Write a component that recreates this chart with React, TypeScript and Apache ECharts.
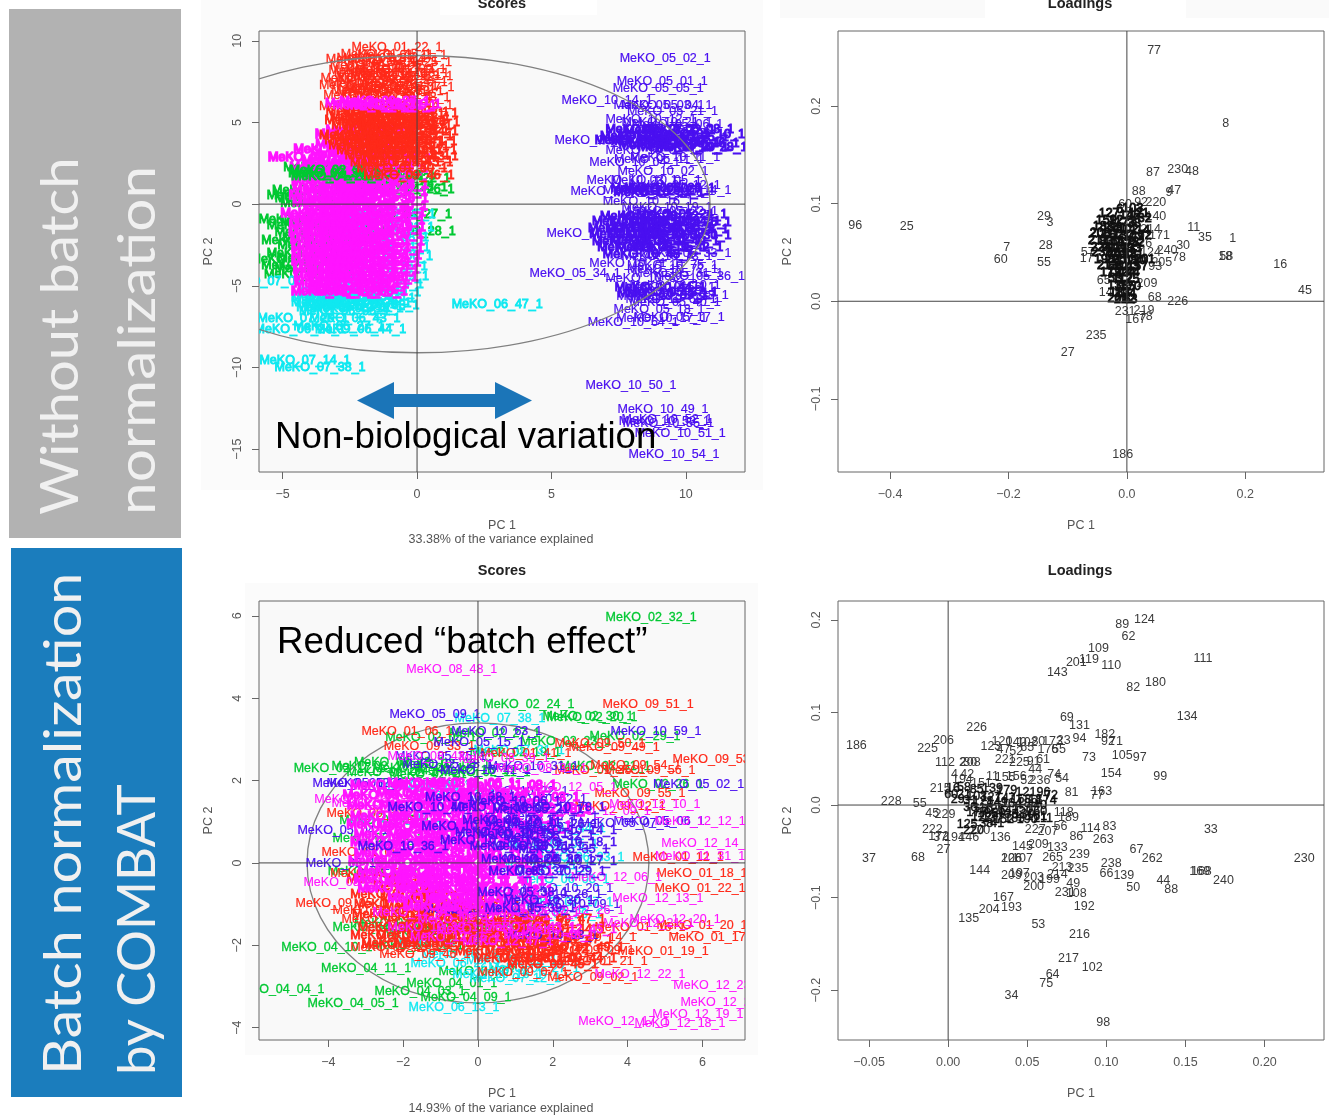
import React, { useEffect, useRef } from "react";
import * as echarts from "echarts";

type Pt = [number, number, string];

// ---------- axis ticks ----------
const aXTicks = [-5, 0, 5, 10];
const aYTicks = [-15, -10, -5, 0, 5, 10];
const bXTicks = [-0.4, -0.2, 0, 0.2];
const bYTicks = [-0.1, 0, 0.1, 0.2];
const cXTicks = [-4, -2, 0, 2, 4, 6];
const cYTicks = [-4, -2, 0, 2, 4, 6];
const dXTicks = [-0.05, 0, 0.05, 0.1, 0.15, 0.2];
const dYTicks = [-0.2, -0.1, 0, 0.1, 0.2];

// ---------- top-left scores ----------
const aGreen: Pt[] = [
  [-3.3,2.3,"02_11"],[-2.9,2.0,"02_14"],[-2.6,1.75,"02_05"],[-2.3,2.1,"02_19"],[-1.9,1.9,"02_21"],[-1.4,1.7,"04_12"],[-1.0,1.8,"04_18"],[-0.45,1.6,"04_22"],
  [-3.6,0.4,"02_08"],[-3.9,0.55,"02_16"],[-3.4,0.1,"04_13"],[-3.7,0.85,"04_15"],
  [-4.2,-0.9,"04_02"],[-3.9,-1.3,"04_06"],[-3.4,-1.1,"04_17"],[-3.6,-1.7,"04_19"],[-3.3,-2.1,"04_21"],[-3.5,-2.5,"04_23"],[-4.1,-2.2,"02_03"],[-3.9,-3.0,"02_09"],[-4.5,-3.35,"02_13"],[-4.1,-3.7,"02_18"],[-3.6,-3.9,"02_25"],[-4.0,-4.25,"02_26"],[-3.5,-3.3,"04_24"],
  [-0.26,-1.65,"02_28"],[-0.3,0.9,"04_26"],[-0.55,1.05,"02_33"],[-0.4,-0.6,"04_27"],
];
const aCyan: Pt[] = [
  [2.98,-6.13,"06_47"],[-4.17,-9.56,"07_14"],[-3.61,-9.99,"07_38"],[-4.24,-6.99,"07_29"],[-2.31,-6.99,"06_43"],[-4.35,-7.66,"06_24"],[-2.1,-7.66,"06_44"],[-2.9,-7.45,"06_27"],[-5.45,-4.72,"07_01"],
  [-3.0,-5.7,"06_31"],[-2.5,-5.85,"07_11"],[-2.05,-5.6,"06_35"],[-1.75,-5.75,"07_16"],[-3.0,-6.0,"06_12"],[-2.45,-6.1,"07_19"],[-1.9,-6.05,"06_38"],[-2.8,-6.3,"07_22"],[-2.2,-6.35,"06_19"],[-2.65,-5.45,"07_27"],[-1.55,-5.4,"06_40"],[-1.6,-6.15,"07_33"],[-2.7,-6.55,"06_05"],
  [-1.25,-2.0,"06_08"],[-1.2,-2.6,"06_21"],[-1.1,-3.2,"07_06"],[-1.3,-3.8,"06_16"],[-1.25,-4.4,"07_09"],[-1.45,-4.9,"06_29"],[-1.05,-1.4,"07_31"],[-1.0,-0.6,"07_35"],
];
const aMagenta: Pt[] = [
  [-3.85,2.88,"08_14"],[-2.9,3.35,"08_21"],[-2.3,3.1,"11_04"],[-2.1,3.7,"11_09"],[-1.6,3.25,"08_03"],[-2.6,2.7,"12_16"],[-1.9,2.65,"12_03"],[-1.15,2.75,"12_22"],
  [-2.1,4.3,"08_41"],[-1.7,4.55,"12_28"],
  [-3.05,2.3,"08_06"],[-2.55,2.25,"11_15"],[-1.9,2.1,"12_09"],[-1.3,2.2,"08_19"],[-3.0,1.4,"11_23"],[-2.4,1.55,"12_31"],[-1.8,1.3,"08_24"],[-1.25,1.25,"11_28"],
  [-2.95,1.0,"08_29"],[-2.5,0.9,"12_34"],[-1.95,0.85,"11_33"],[-1.3,0.8,"08_32"],[-3.1,0.55,"11_35"],[-2.4,0.5,"12_37"],[-1.85,0.45,"08_35"],[-1.25,0.35,"11_38"],
  [-2.95,0.15,"08_38"],[-2.55,0.05,"12_40"],[-1.9,0.0,"11_41"],[-1.3,-0.1,"08_40"],[-3.4,-0.55,"11_43"],[-2.5,-0.35,"12_42"],[-1.95,-0.4,"08_42"],[-1.35,-0.5,"11_44"],
  [-3.05,-0.85,"08_44"],[-2.6,-0.8,"12_45"],[-2.0,-0.85,"11_46"],[-1.4,-0.95,"08_46"],[-3.1,-1.3,"11_47"],[-2.5,-1.25,"12_47"],[-1.9,-1.3,"08_47"],[-1.35,-1.4,"11_48"],
  [-3.1,-1.7,"08_49"],[-2.55,-1.7,"12_48"],[-2.0,-1.75,"11_49"],[-1.45,-1.8,"08_50"],[-3.05,-2.15,"11_50"],[-2.5,-2.15,"12_49"],[-1.95,-2.2,"08_51"],[-1.4,-2.25,"11_51"],
  [-3.0,-2.6,"08_52"],[-2.45,-2.6,"12_50"],[-1.9,-2.65,"11_52"],[-1.45,-2.7,"08_53"],[-3.0,-3.05,"11_53"],[-2.5,-3.05,"12_51"],[-1.95,-3.1,"08_54"],[-1.5,-3.1,"11_54"],
  [-3.0,-3.5,"08_55"],[-2.45,-3.5,"12_52"],[-1.9,-3.55,"11_55"],[-1.55,-3.55,"08_56"],[-2.95,-3.95,"11_56"],[-2.4,-3.95,"12_53"],[-1.95,-4.0,"08_57"],[-1.6,-4.0,"11_57"],
  [-2.9,-4.4,"08_58"],[-2.4,-4.35,"12_54"],[-1.95,-4.45,"11_58"],[-1.65,-4.45,"08_59"],[-2.9,-4.85,"11_59"],[-2.3,-4.85,"12_55"],[-2.0,-4.9,"08_60"],[-3.0,-5.3,"08_48"],[-2.4,-5.2,"11_60"],[-2.05,-5.3,"12_56"],
];
const aMagentaBand: Pt[] = [
  [-1.75,6.2,"11_12"],[-1.2,6.3,"08_27"],[-0.8,6.15,"12_19"],[-1.45,6.05,"08_36"],[-0.95,6.05,"11_31"],
];
const aGreenTop: Pt[] = [
  [-3.05,2.1,"02_35"],[-3.1,1.9,"02_36"],[-3.0,1.75,"04_28"],
];
const aRedTop: Pt[] = [
  [-0.75,9.6,"01_22"],[-0.55,9.15,"01_11"],[-1.3,8.95,"01_31"],[-0.9,8.8,"01_04"],[-0.4,8.7,"01_25"],[-1.55,8.5,"01_16"],[-1.0,8.35,"09_27"],[-0.6,8.25,"01_09"],
  [-1.4,8.05,"09_33"],[-0.8,7.95,"01_40"],[-0.35,7.85,"01_13"],[-1.9,7.75,"01_28"],[-1.2,7.6,"09_12"],[-0.55,7.5,"09_20"],[-1.95,7.3,"01_36"],[-0.9,7.25,"09_41"],
  [-0.3,7.2,"01_07"],[-1.5,7.0,"09_08"],[-0.7,6.9,"01_33"],[-1.8,6.7,"09_17"],[-1.1,6.6,"01_29"],[-0.45,6.55,"09_38"],[-1.6,8.2,"09_44"],[-1.15,9.2,"01_45"],[-1.6,7.4,"09_05"],[-1.3,7.85,"01_18"],[-1.0,7.05,"09_29"],[-0.5,8.0,"01_38"],
  [-1.3,6.85,"09_35"],[-1.7,8.9,"01_42"],[-1.95,6.0,"09_02"],[-0.35,6.05,"01_44"],
];
const aRedCore: Pt[] = [
  [-1.7,5.7,"01_02"],[-1.1,5.75,"09_11"],[-0.5,5.65,"01_14"],[-0.15,5.55,"09_31"],[-1.55,5.4,"01_15"],[-1.0,5.4,"09_14"],[-0.45,5.35,"01_21"],
  [-1.75,5.15,"09_19"],[-1.15,5.1,"01_24"],[-0.6,5.1,"09_22"],[-0.1,5.0,"01_26"],[-1.5,4.85,"09_24"],[-0.95,4.85,"01_30"],[-0.4,4.8,"09_26"],[-1.05,4.55,"01_32"],[-0.5,4.5,"09_28"],[-0.15,4.45,"01_34"],
  [-1.95,4.25,"09_30"],[-1.4,4.2,"01_35"],[-0.85,4.2,"09_32"],[-0.35,4.15,"01_37"],[-1.75,3.95,"09_34"],[-1.2,3.9,"01_39"],[-0.65,3.85,"09_36"],[-0.2,3.85,"01_41"],[-1.6,3.6,"09_37"],[-1.05,3.6,"01_43"],[-0.5,3.55,"09_39"],
  [-1.3,3.3,"01_46"],[-0.75,3.3,"09_40"],[-0.2,3.3,"01_47"],[-1.0,3.0,"09_42"],[-0.45,3.0,"01_48"],[-0.15,2.95,"09_43"],[-0.8,2.6,"01_49"],[-0.35,2.55,"09_45"],[-0.55,2.2,"01_50"],[-0.3,1.8,"09_46"],
];
const aBlueSparse: Pt[] = [
  [9.23,8.95,"05_02"],[9.12,7.54,"05_01"],[8.97,7.1,"05_05"],[7.07,6.37,"10_14"],[6.81,3.92,"10_18"],[6.51,-1.78,"10_24"],[5.88,-4.23,"05_34"],[7.96,-11.09,"10_50"],[9.15,-12.56,"10_49"],[9.3,-13.17,"10_52"],[9.2,-13.3,"10_53"],[9.35,-13.4,"10_55"],[9.79,-14.03,"10_51"],[9.56,-15.32,"10_54"],[8.04,-7.23,"10_64"],[9.75,-6.9,"05_17"],[9.0,-6.45,"05_18"],[9.1,-6.95,"10_17"],
  [9.0,6.1,"05_03"],[9.3,6.05,"05_04"],[9.5,5.7,"05_21"],[8.7,5.2,"10_12"],[9.3,5.0,"10_21"],[9.7,4.9,"05_06"],[8.7,3.3,"10_02"],[9.6,2.9,"10_11"],[8.1,2.6,"10_04"],[9.0,2.75,"05_11"],[9.15,2.0,"10_02"],
  [8.0,1.45,"10_03"],[8.9,1.45,"10_05"],[9.6,1.2,"05_12"],[7.4,0.8,"10_06"],[8.6,0.85,"05_13"],[9.4,0.8,"10_07"],[10.0,0.85,"05_14"],[8.6,0.2,"10_16"],[9.3,-0.2,"10_19"],[9.5,-0.4,"05_22"],
  [9.7,-4.2,"05_31"],[8.1,-3.6,"10_71"],[9.3,-3.2,"10_73"],[9.5,-3.75,"10_75"],[10.0,-3.0,"05_33"],[9.5,-4.0,"10_72"],[8.7,-4.5,"10_62"],[10.5,-4.4,"05_36"],[9.6,-4.95,"10_10"],[9.4,-5.05,"10_66"],[9.1,-5.6,"10_67"],[9.9,-5.55,"05_38"],[9.45,-5.8,"10_68"],[9.6,-6.0,"05_40"],
];
const aBlueCore: Pt[] = [
  [8.7,4.6,"05_07"],[9.4,4.55,"10_22"],[10.1,4.6,"05_08"],[8.5,4.2,"10_23"],[9.2,4.25,"05_09"],[9.9,4.1,"10_25"],[10.5,4.3,"05_10"],[8.3,3.95,"10_26"],[8.9,3.85,"05_15"],[9.6,3.8,"10_27"],[10.3,3.75,"05_16"],[10.6,3.5,"10_28"],[9.2,3.6,"05_19"],[9.9,3.5,"10_29"],
  [8.9,1.0,"10_30"],[9.4,1.0,"05_20"],[9.0,0.75,"10_31"],[8.5,-0.7,"05_23"],[9.3,-0.75,"10_32"],[9.85,-0.6,"05_24"],[8.2,-1.05,"10_33"],[8.9,-1.1,"05_25"],[9.6,-1.05,"10_34"],[10.0,-1.1,"05_26"],
  [8.05,-1.45,"10_35"],[8.7,-1.45,"05_27"],[9.35,-1.4,"10_36"],[9.9,-1.5,"05_28"],[8.1,-1.85,"10_37"],[8.8,-1.85,"05_29"],[9.5,-1.8,"10_38"],[10.0,-1.9,"05_30"],[8.2,-2.25,"10_39"],[8.9,-2.2,"05_32"],[9.55,-2.25,"10_40"],[8.4,-2.65,"10_41"],[9.1,-2.6,"05_35"],[9.7,-2.65,"10_42"],[8.6,-3.05,"10_43"],
  [9.05,-5.1,"10_44"],[9.5,-5.35,"05_37"],[9.15,-5.45,"10_45"],
];

// ---------- top-right loadings ----------
const bSparse: Pt[] = [
  [0.046,0.258,"77"],[0.167,0.183,"8"],[0.044,0.132,"87"],[0.086,0.136,"230"],[0.11,0.134,"48"],[0.02,0.113,"88"],[0.08,0.114,"47"],[0.071,0.112,"9"],[0.024,0.102,"92"],[0.049,0.102,"220"],[-0.003,0.1,"60"],
  [-0.14,0.087,"29"],[-0.13,0.081,"3"],[-0.459,0.078,"96"],[-0.372,0.077,"25"],[0.049,0.087,"140"],[0.113,0.076,"11"],[0.132,0.066,"35"],[0.179,0.065,"1"],[-0.203,0.056,"7"],[-0.137,0.058,"28"],[0.095,0.058,"30"],
  [-0.213,0.043,"60"],[-0.14,0.04,"55"],[0.259,0.038,"16"],[0.166,0.046,"18"],[0.168,0.046,"58"],[-0.066,0.051,"57"],[-0.068,0.044,"17"],[0.068,0.053,"240"],[0.088,0.045,"78"],[0.059,0.04,"205"],[-0.051,0.071,"20"],
  [0.301,0.012,"45"],[0.034,0.019,"209"],[-0.039,0.022,"65"],[-0.03,0.009,"141"],[0.047,0.004,"68"],[0.086,0.0,"226"],[-0.003,-0.01,"231"],[0.029,-0.009,"219"],[0.032,-0.015,"78"],[0.015,-0.018,"167"],[-0.052,-0.035,"235"],[-0.1,-0.052,"27"],[-0.007,-0.157,"186"],
  [0.04,0.074,"214"],[0.055,0.068,"171"],[0.025,0.06,"126"],[0.04,0.05,"124"],[0.048,0.036,"93"],
];
const bCore: Pt[] = [
  [-0.012,0.095,"6"],[0.01,0.096,"103"],[0.02,0.09,"121"],[-0.03,0.09,"127"],[0.005,0.088,"146"],[0.03,0.085,"32"],[-0.035,0.083,"159"],[-0.018,0.083,"12"],[-0.003,0.081,"173"],[0.012,0.08,"38"],
  [-0.04,0.077,"188"],[-0.025,0.076,"199"],[-0.012,0.075,"41"],[0.002,0.074,"102"],[0.022,0.073,"114"],[-0.045,0.07,"208"],[-0.03,0.069,"211"],[-0.018,0.068,"62"],[-0.006,0.068,"137"],[0.012,0.067,"149"],[0.03,0.068,"72"],
  [-0.048,0.063,"217"],[-0.035,0.062,"83"],[-0.022,0.062,"154"],[-0.01,0.062,"165"],[0.003,0.061,"178"],[0.018,0.061,"52"],[-0.044,0.056,"224"],[-0.031,0.056,"91"],[-0.018,0.055,"109"],[-0.006,0.055,"118"],[0.008,0.055,"133"],
  [-0.042,0.05,"237"],[-0.028,0.049,"74"],[-0.015,0.049,"151"],[-0.002,0.049,"162"],[0.011,0.048,"181"],[-0.038,0.043,"198"],[-0.025,0.043,"22"],[-0.012,0.043,"95"],[0.0,0.042,"108"],[0.015,0.042,"130"],[0.03,0.043,"201"],
  [-0.033,0.037,"213"],[-0.02,0.036,"66"],[-0.008,0.036,"81"],[0.004,0.036,"143"],[0.018,0.036,"157"],[-0.028,0.03,"172"],[-0.015,0.03,"192"],[-0.003,0.03,"204"],[0.01,0.03,"44"],[-0.02,0.024,"53"],[-0.008,0.024,"112"],[0.004,0.023,"125"],
  [-0.015,0.017,"138"],[-0.004,0.016,"155"],[0.006,0.016,"170"],[-0.012,0.009,"183"],[-0.002,0.008,"194"],[-0.015,0.003,"206"],[-0.004,0.002,"222"],[0.006,0.002,"63"],
];

// ---------- bottom-left scores ----------
const cGreen: Pt[] = [
  [4.63,5.97,"02_32"],[1.36,3.86,"02_24"],[2.94,3.57,"02_30"],[3.05,3.55,"02_20"],[-1.26,3.06,"02_05"],[0.45,3.15,"02_27"],[4.2,3.08,"02_29"],[2.35,2.95,"02_23"],[1.0,2.7,"02_19"],
  [-3.71,2.3,"02_17"],[-2.7,2.35,"02_10"],[-2.1,2.45,"02_13"],[-1.6,2.3,"02_06"],[-0.9,2.4,"02_08"],[-0.4,2.25,"02_15"],[0.2,2.2,"02_11"],[-2.3,2.2,"02_02"],[-1.15,2.15,"02_21"],
  [4.81,1.92,"02_26"],[3.4,2.35,"02_31"],[-2.67,0.6,"02_04"],[-2.49,1.04,"02_07"],[-2.67,-1.55,"04_16"],[-2.1,-1.45,"04_13"],[-1.3,-1.7,"04_14"],
  [-4.04,-2.04,"04_10"],[-2.99,-2.55,"04_11"],[-5.32,-3.06,"04_04"],[-3.34,-3.4,"04_05"],[-1.55,-3.1,"04_03"],[-0.7,-2.91,"04_01"],[-0.32,-3.25,"04_09"],[0.16,-2.62,"04_07"],[-1.6,-2.0,"04_08"],[-0.5,-1.55,"04_06"],[0.7,-1.5,"04_12"],[-2.8,-0.2,"04_15"],
];
const cCyan: Pt[] = [
  [0.59,3.52,"07_38"],[1.1,2.75,"07_31"],[-0.59,-2.43,"06_22"],[0.53,-2.69,"06_16"],[-0.64,-3.5,"06_13"],[-0.9,-1.95,"06_09"],[-0.3,-2.2,"06_18"],[0.9,-2.35,"07_02"],[1.5,-2.55,"06_27"],[1.0,-2.8,"07_12"],
  [-2.2,1.1,"07_09"],[-1.4,1.9,"07_21"],[-0.8,1.85,"06_30"],[2.0,0.45,"06_05"],[2.3,-0.4,"06_03"],[2.2,0.85,"07_44"],[1.8,-0.05,"06_21"],[2.4,-0.95,"07_17"],[2.1,-1.25,"07_29"],[2.7,0.15,"06_33"],
];
const cRed: Pt[] = [
  [4.55,3.86,"09_51"],[-1.9,3.2,"01_06"],[3.26,2.91,"09_50"],[3.64,2.81,"09_49"],[1.28,2.66,"01_41"],[-1.3,2.85,"09_33"],[4.22,2.38,"09_54"],[6.42,2.52,"09_53"],[3.26,2.26,"01_35"],[4.6,2.26,"09_56"],[4.33,1.7,"09_55"],[3.8,1.38,"09_12"],[5.35,0.15,"01_12"],[5.99,-0.24,"01_18"],[5.94,-0.61,"01_22"],[5.99,-1.5,"01_20"],[4.33,-1.55,"01_16"],[6.31,-1.8,"01_17"],[3.02,-1.8,"09_14"],[4.95,-2.14,"01_19"],[2.97,-2.11,"09_09"],[3.32,-2.38,"01_21"],[3.07,-2.77,"09_02"],[1.2,-2.65,"09_07"],[-1.42,-2.21,"09_46"],[-3.66,-0.97,"09_05"],[-2.97,0.27,"01_08"],[-2.83,1.21,"09_31"],[-2.67,-1.14,"09_24"],[-2.43,-1.36,"09_18"],[-2.73,-0.24,"01_29"],[-2.2,-2.05,"09_28"],[-1.9,-2.0,"01_38"],
];
const cRedCore: Pt[] = [
  [-2.3,-0.4,"01_03"],[-1.6,-0.55,"09_11"],[-2.2,-0.75,"01_14"],[-1.4,-0.8,"09_16"],[-0.6,-0.85,"01_24"],[-2.1,-1.0,"09_19"],[-1.3,-1.05,"01_27"],[-0.5,-1.1,"09_21"],[0.3,-1.05,"01_31"],
  [-2.15,-1.25,"09_25"],[-1.4,-1.3,"01_33"],[-0.6,-1.3,"09_27"],[0.2,-1.3,"01_36"],[-2.0,-1.55,"09_29"],[-1.2,-1.5,"01_37"],[-0.4,-1.5,"09_32"],[0.4,-1.55,"01_39"],[1.1,-1.45,"09_34"],
  [-2.2,-1.75,"01_40"],[-1.5,-1.75,"09_35"],[-0.7,-1.75,"01_42"],[0.1,-1.75,"09_36"],[0.9,-1.75,"01_43"],[1.6,-1.7,"09_37"],[2.2,-1.6,"01_44"],[-1.9,-1.95,"09_38"],[-1.0,-1.95,"01_45"],[0.2,-1.95,"09_39"],[1.0,-1.95,"01_46"],[1.8,-1.9,"09_40"],[2.4,-1.85,"01_47"],
  [0.6,-2.15,"09_41"],[1.4,-2.15,"01_48"],[2.1,-2.1,"09_42"],[2.7,-2.05,"01_49"],[1.1,-2.3,"09_43"],[1.8,-2.3,"01_50"],[2.5,-2.3,"09_44"],[2.0,-2.45,"09_45"],[1.6,-1.4,"01_51"],[2.2,-1.35,"09_47"],
];
const cMagenta: Pt[] = [
  [-0.7,4.71,"08_48"],[-3.16,1.55,"08_12"],[-2.7,1.45,"08_17"],[-3.45,-0.46,"08_22"],[4.73,1.43,"12_10"],[3.4,1.25,"12_09"],[5.94,1.02,"12_12"],[6.12,0.49,"12_14"],[5.94,0.17,"11_31"],[4.81,-0.85,"12_13"],[3.7,-0.35,"12_06"],[5.27,-1.36,"12_20"],[4.57,-1.46,"12_21"],[4.33,-2.69,"12_22"],[6.44,-2.96,"12_23"],[6.63,-3.37,"12_24"],[5.88,-3.67,"12_19"],[3.9,-3.83,"12_17"],[5.4,-3.88,"12_18"],[2.7,-1.15,"12_26"],[2.5,1.85,"12_05"],[1.7,2.3,"08_31"],[0.7,2.55,"08_39"],[-1.2,2.6,"08_43"],
];
const cMagentaCore: Pt[] = [
  [-2.2,1.9,"08_01"],[-1.2,1.95,"08_03"],[-0.2,1.95,"11_06"],[0.9,1.9,"11_08"],[-2.4,1.65,"08_05"],[-1.5,1.7,"11_12"],[-0.5,1.65,"08_07"],[0.5,1.7,"11_14"],[1.5,1.6,"12_03"],
  [-2.3,1.4,"11_16"],[-1.4,1.4,"08_09"],[-0.4,1.45,"11_18"],[0.7,1.4,"12_07"],[1.8,1.3,"12_08"],[-2.2,1.15,"08_10"],[-1.2,1.15,"11_20"],[-0.2,1.2,"08_11"],[0.9,1.15,"11_22"],
  [-2.3,0.95,"08_13"],[-1.5,0.9,"11_24"],[-0.5,0.95,"08_14"],[0.5,0.9,"11_26"],[1.3,0.9,"12_11"],[-2.1,0.7,"08_15"],[-1.2,0.7,"11_27"],[-0.2,0.7,"08_16"],[0.9,0.7,"11_29"],
  [-2.2,0.5,"08_18"],[-1.4,0.45,"11_30"],[-0.4,0.5,"08_19"],[0.6,0.45,"11_32"],[-2.1,0.25,"08_20"],[-1.2,0.25,"11_33"],[-0.2,0.25,"08_21"],[0.9,0.2,"11_34"],
  [-2.25,0.05,"08_23"],[-1.5,0.0,"11_35"],[-0.5,0.05,"08_24"],[0.5,0.0,"11_36"],[-2.0,-0.2,"08_25"],[-1.1,-0.2,"11_37"],[-0.2,-0.2,"08_26"],[0.8,-0.2,"11_38"],
  [-2.1,-0.4,"08_27"],[-1.3,-0.4,"11_39"],[-0.4,-0.4,"08_28"],[0.6,-0.45,"11_40"],[-2.0,-0.6,"08_29"],[-1.0,-0.62,"11_41"],[-0.1,-0.62,"08_30"],[0.8,-0.65,"11_42"],
  [-1.2,-0.85,"08_32"],[-0.2,-0.85,"11_43"],[0.7,-0.88,"08_33"],[-0.8,-1.05,"11_44"],[0.1,-1.08,"08_34"],
];
const cMagentaLow: Pt[] = [
  [-1.6,-1.2,"12_31"],[-0.4,-1.35,"12_33"],[0.7,-1.3,"12_35"],[1.5,-1.2,"12_37"],[-1.2,-1.55,"12_39"],[0.1,-1.6,"12_41"],[1.4,-1.55,"12_43"],[2.5,-1.6,"12_45"],[-0.6,-1.8,"12_46"],[0.8,-1.9,"12_47"],[1.9,-1.75,"12_48"],
];
const cBlue: Pt[] = [
  [-1.15,3.62,"05_09"],[0.5,3.2,"10_63"],[4.76,3.2,"10_59"],[0.03,2.94,"05_15"],[-1.0,2.6,"05_25"],[-0.8,2.4,"05_28"],[0.2,2.25,"10_42"],[1.47,2.35,"10_31"],[5.9,1.92,"05_02"],[4.84,1.02,"05_06"],[3.93,0.97,"05_07"],[-3.21,1.94,"05_12"],[-2.83,1.94,"05_29"],[-3.61,0.8,"05_04"],[-3.4,0.0,"05_11"],[-0.24,-1.12,"10_37"],[0.3,-1.15,"10_45"],[2.59,-0.99,"10_09"],[2.4,-0.6,"10_20"],[2.1,-0.75,"10_26"],[2.0,-1.75,"10_33"],[1.7,1.55,"10_52"],[2.0,1.15,"10_17"],[1.2,1.75,"10_22"],
];
const cBlueCore: Pt[] = [
  [0.5,1.35,"05_18"],[1.0,1.5,"10_06"],[1.6,1.3,"05_21"],[2.2,1.35,"10_78"],[0.8,1.05,"05_23"],[1.4,1.0,"10_11"],[2.0,0.95,"05_26"],[2.5,0.8,"10_14"],[0.6,0.75,"05_30"],[1.2,0.7,"10_15"],[1.9,0.65,"05_32"],[2.5,0.5,"10_18"],
  [1.0,0.4,"05_33"],[1.6,0.4,"10_21"],[2.3,0.35,"05_35"],[1.3,0.1,"10_24"],[1.9,0.1,"05_36"],[2.5,0.05,"10_27"],[1.5,-0.2,"05_37"],[2.2,-0.2,"10_29"],[1.2,-0.7,"05_38"],[1.9,-0.9,"10_30"],[1.4,-1.1,"05_39"],[-0.3,0.9,"10_32"],[0.2,0.55,"10_34"],[-2.0,0.4,"10_36"],[-0.2,1.6,"10_38"],[-1.2,1.35,"10_40"],
];

// ---------- bottom-right loadings ----------
const dSparse: Pt[] = [
  [0.124,0.201,"124"],[0.11,0.196,"89"],[0.114,0.183,"62"],[0.095,0.17,"109"],[0.081,0.155,"201"],[0.089,0.158,"119"],[0.069,0.144,"143"],[0.103,0.151,"110"],[0.161,0.159,"111"],[0.117,0.127,"82"],[0.131,0.133,"180"],[0.151,0.096,"134"],
  [0.075,0.095,"69"],[0.083,0.086,"131"],[0.099,0.077,"182"],[0.083,0.072,"94"],[0.101,0.069,"92"],[0.106,0.069,"71"],[0.018,0.084,"226"],[-0.003,0.07,"206"],[-0.013,0.062,"225"],[-0.058,0.065,"186"],[0.089,0.052,"73"],[0.11,0.054,"105"],[0.121,0.052,"97"],
  [-0.002,0.047,"112"],[0.009,0.047,"2"],[0.014,0.047,"208"],[0.014,0.047,"30"],[0.103,0.035,"154"],[0.134,0.031,"99"],[0.072,0.029,"54"],[0.067,0.034,"74"],[0.055,0.039,"44"],[0.097,0.015,"163"],[0.094,0.011,"77"],[0.078,0.014,"81"],[-0.036,0.004,"228"],[-0.018,0.002,"55"],
  [0.166,-0.026,"33"],[0.09,-0.025,"114"],[0.102,-0.023,"83"],[0.081,-0.033,"86"],[0.098,-0.037,"263"],[0.071,-0.023,"56"],[0.076,-0.013,"189"],[0.073,-0.008,"118"],[0.225,-0.057,"230"],[-0.05,-0.057,"37"],[-0.019,-0.056,"68"],[-0.003,-0.047,"27"],[0.119,-0.047,"67"],[0.129,-0.057,"262"],[0.083,-0.053,"239"],[0.069,-0.045,"133"],[0.066,-0.056,"265"],
  [0.103,-0.063,"238"],[0.072,-0.067,"213"],[0.082,-0.068,"235"],[0.1,-0.073,"66"],[0.111,-0.076,"139"],[0.136,-0.081,"44"],[0.141,-0.091,"88"],[0.117,-0.088,"50"],[0.174,-0.081,"240"],[0.159,-0.071,"169"],[0.16,-0.071,"168"],[0.02,-0.07,"144"],[0.04,-0.057,"106"],[0.04,-0.057,"226"],[0.047,-0.057,"107"],[0.047,-0.044,"145"],
  [0.04,-0.076,"209"],[0.045,-0.073,"197"],[0.054,-0.078,"203"],[0.064,-0.08,"199"],[0.069,-0.075,"214"],[0.054,-0.087,"200"],[0.074,-0.094,"231"],[0.079,-0.084,"49"],[0.081,-0.095,"108"],[0.035,-0.099,"167"],[0.026,-0.112,"204"],[0.04,-0.11,"193"],[0.013,-0.122,"135"],[0.086,-0.109,"192"],[0.057,-0.128,"53"],[0.083,-0.139,"216"],[0.076,-0.165,"217"],[0.091,-0.175,"102"],[0.066,-0.182,"64"],[0.062,-0.192,"75"],[0.04,-0.205,"34"],[0.098,-0.234,"98"],
  [-0.002,-0.01,"229"],[-0.01,-0.009,"45"],[-0.01,-0.026,"222"],[-0.006,-0.033,"172"],[-0.005,-0.034,"37"],[0.004,-0.034,"194"],[0.013,-0.034,"146"],[0.02,-0.027,"170"],[0.033,-0.035,"136"],[0.055,-0.026,"227"],[0.063,-0.028,"207"],[0.057,-0.042,"209"],
  [0.034,0.069,"120"],[0.043,0.068,"140"],[0.05,0.068,"102"],[0.057,0.069,"80"],[0.066,0.069,"173"],[0.073,0.07,"23"],[0.027,0.064,"123"],[0.035,0.06,"47"],[0.043,0.058,"52"],[0.05,0.063,"65"],[0.063,0.061,"176"],[0.07,0.06,"55"],[0.036,0.05,"221"],[0.045,0.047,"225"],[0.054,0.048,"91"],[0.06,0.05,"61"],
  [0.004,0.034,"4"],[0.012,0.033,"42"],[0.009,0.028,"194"],[0.021,0.024,"151"],[0.028,0.031,"11"],[0.036,0.03,"155"],[0.043,0.031,"156"],[0.05,0.027,"52"],[0.058,0.027,"236"],[-0.005,0.018,"215"],
];
const dCore: Pt[] = [
  [0.003,0.018,"16"],[0.01,0.019,"58"],[0.018,0.017,"85"],[0.028,0.018,"139"],[0.037,0.016,"179"],[0.047,0.014,"12"],[0.058,0.014,"196"],[0.065,0.011,"72"],
  [0.002,0.012,"60"],[0.01,0.012,"21"],[0.018,0.01,"103"],[0.027,0.009,"127"],[0.036,0.008,"147"],[0.046,0.007,"158"],[0.055,0.007,"18"],[0.062,0.005,"174"],
  [0.006,0.006,"29"],[0.014,0.005,"31"],[0.022,0.004,"128"],[0.031,0.003,"149"],[0.04,0.002,"164"],[0.05,0.002,"188"],[0.058,0.0,"40"],
  [0.014,-0.002,"36"],[0.022,-0.003,"116"],[0.029,-0.004,"126"],[0.038,-0.005,"142"],[0.047,-0.004,"150"],[0.056,-0.006,"160"],[0.018,-0.008,"177"],[0.025,-0.009,"195"],[0.032,-0.009,"20"],[0.04,-0.01,"35"],[0.048,-0.01,"130"],[0.056,-0.012,"161"],
  [0.021,-0.013,"122"],[0.028,-0.014,"137"],[0.035,-0.015,"152"],[0.042,-0.014,"183"],[0.05,-0.015,"190"],[0.06,-0.014,"211"],[0.024,-0.019,"38"],[0.031,-0.019,"41"],[0.012,-0.02,"125"],[0.016,-0.027,"220"],
];

const RED = "#ff2a1a", MAG = "#ff14ff", GRN = "#00c832", CYN = "#10e8f0", BLU = "#4a10f0", BLK = "#3a3a3a";

const FONT = '"Liberation Sans", Arial, sans-serif';

function labels(grid: number, data: Pt[], color: string, lw = 0, size = 12.5) {
  return {
    type: "custom",
    coordinateSystem: "cartesian2d",
    xAxisIndex: grid,
    yAxisIndex: grid,
    clip: true,
    silent: true,
    data: data.map((d) => [d[0], d[1]]),
    encode: { x: 0, y: 1 },
    renderItem: (params: any, api: any) => {
      const p = api.coord([api.value(0), api.value(1)]);
      const raw = data[params.dataIndex][2];
      const text = raw.includes("_") ? `MeKO_${raw}_1` : raw;
      return {
        type: "text",
        x: p[0],
        y: p[1],
        silent: true,
        style: {
          text,
          font: `${size}px ${FONT}`,
          fill: color,
          stroke: lw > 0 ? color : undefined,
          lineWidth: lw,
          align: "center",
          verticalAlign: "middle",
          textAlign: "center",
          textVerticalAlign: "middle",
        },
      };
    },
  };
}

function ellipse(grid: number, rx: number, ry: number) {
  return {
    type: "custom",
    coordinateSystem: "cartesian2d",
    xAxisIndex: grid,
    yAxisIndex: grid,
    clip: true,
    silent: true,
    data: [[0, 0, rx, ry]],
    encode: { x: 0, y: 1 },
    renderItem: (_p: any, api: any) => {
      const c = api.coord([0, 0]);
      const s = api.size([api.value(2), api.value(3)]);
      return {
        type: "ellipse",
        shape: { cx: c[0], cy: c[1], rx: s[0], ry: s[1] },
        style: { fill: "none", stroke: "#808080", lineWidth: 1.3 },
      };
    },
  };
}

function cross(grid: number, xr: number[], yr: number[]) {
  const base = { type: "line", xAxisIndex: grid, yAxisIndex: grid, showSymbol: false, silent: true, z: 6, lineStyle: { color: "#444", width: 1 } };
  return [
    { ...base, data: [[xr[0], 0], [xr[1], 0]] },
    { ...base, data: [[0, yr[0]], [0, yr[1]]] },
  ];
}

const fmt = (d: number) => (v: number) => (v < 0 ? "\u2212" : "") + Math.abs(v).toFixed(d);

function xAxis(grid: number, range: number[], ticks: number[], dec: number, gap: number) {
  return {
    type: "value", gridIndex: grid, min: range[0], max: range[1], position: "bottom",
    name: "PC 1", nameLocation: "middle", nameGap: gap,
    nameTextStyle: { color: "#555", fontFamily: FONT, fontSize: 12.5 },
    axisLine: { show: false, onZero: false }, splitLine: { show: false },
    axisTick: { show: true, length: 7, customValues: ticks, lineStyle: { color: "#666" } },
    axisLabel: { customValues: ticks, color: "#555", fontFamily: FONT, fontSize: 12.5, margin: 15, formatter: fmt(dec), hideOverlap: false },
  };
}
function yAxis(grid: number, range: number[], ticks: number[], dec: number, gap: number) {
  return {
    type: "value", gridIndex: grid, min: range[0], max: range[1], position: "left",
    name: "PC 2", nameLocation: "middle", nameGap: gap, nameRotate: 90,
    nameTextStyle: { color: "#555", fontFamily: FONT, fontSize: 12.5 },
    axisLine: { show: false, onZero: false }, splitLine: { show: false },
    axisTick: { show: true, length: 7, customValues: ticks, lineStyle: { color: "#666" } },
    axisLabel: { customValues: ticks, color: "#555", fontFamily: FONT, fontSize: 12.5, margin: 16, rotate: 90, formatter: fmt(dec), hideOverlap: false },
  };
}

const aX = [-5.88, 12.2], aY = [-16.4, 10.6];
const bX = [-0.488, 0.333], bY = [-0.175, 0.277];
const cX = [-5.855, 7.14], cY = [-4.3, 6.36];
const dX = [-0.0696, 0.2375], dY = [-0.2538, 0.2204];

function txt(x: number, y: number, text: string, font: string, fill: string, extra: any = {}) {
  return { type: "text", x, y, z: 50, silent: true, style: { text, font, fill, textAlign: "center", textVerticalAlign: "middle", ...extra.style }, ...extra.el };
}
function rect(x: number, y: number, w: number, h: number, fill: string, z = -10) {
  return { type: "rect", z, silent: true, shape: { x, y, width: w, height: h }, style: { fill } };
}
const R90 = (scaleX: number) => ({ el: { rotation: Math.PI / 2, scaleX }, style: { textAlign: "left" } });
const BANNER = '400 52px Lato, "Open Sans", sans-serif';

export default function App() {
  const ref = useRef<HTMLDivElement>(null);
  useEffect(() => {
    const chart = echarts.init(ref.current!, undefined, { renderer: "svg" });
    chart.setOption({
      animation: false,
      backgroundColor: "#ffffff",
      grid: [
        { left: 259, top: 31, width: 486, height: 441, show: true, backgroundColor: "#f9f9f9", borderColor: "#666", borderWidth: 1 },
        { left: 838, top: 31, width: 486, height: 441, show: true, backgroundColor: "#ffffff", borderColor: "#666", borderWidth: 1 },
        { left: 259, top: 601, width: 486, height: 439, show: true, backgroundColor: "#f9f9f9", borderColor: "#666", borderWidth: 1 },
        { left: 838, top: 601, width: 486, height: 439, show: true, backgroundColor: "#ffffff", borderColor: "#666", borderWidth: 1 },
      ],
      xAxis: [xAxis(0, aX, aXTicks, 0, 46), xAxis(1, bX, bXTicks, 1, 46), xAxis(2, cX, cXTicks, 0, 46), xAxis(3, dX, dXTicks, 2, 46)],
      yAxis: [yAxis(0, aY, aYTicks, 0, 45), yAxis(1, bY, bYTicks, 1, 45), yAxis(2, cY, cYTicks, 0, 45), yAxis(3, dY, dYTicks, 1, 45)],
      series: [
        labels(0, aGreen, GRN, 0.9),
        labels(0, aCyan, CYN, 0.9),
        labels(0, aMagenta, MAG, 1.7),
        labels(0, aGreenTop, GRN, 1.2),
        labels(0, aRedTop, RED, 0.3),
        labels(0, aRedCore, RED, 0.9),
        labels(0, aMagentaBand, MAG, 1.2),
        labels(0, aBlueSparse, BLU, 0.2),
        labels(0, aBlueCore, BLU, 1.2),
        ellipse(0, 10.9, 9.1),
        ...cross(0, aX, aY),

        labels(1, bSparse, BLK, 0),
        labels(1, bCore, "#111111", 0.9),
        ...cross(1, bX, bY),

        ellipse(2, 4.57, 3.4),
        labels(2, cGreen, GRN, 0.3),
        labels(2, cCyan, CYN, 0.3),
        labels(2, cRed, RED, 0.2),
        labels(2, cRedCore, RED, 0.8),
        labels(2, cBlue, BLU, 0.2),
        labels(2, cMagenta, MAG, 0.1),
        labels(2, cMagentaCore, MAG, 1.7),
        labels(2, cMagentaLow, MAG, 0.5),
        labels(2, cBlueCore, BLU, 0.5),
        ...cross(2, cX, cY),

        labels(3, dSparse, BLK, 0),
        labels(3, dCore, "#111111", 0.4),
        ...cross(3, dX, dY),
      ],
      graphic: [
        rect(201, 0, 562, 490, "#fbfbfb"),
        rect(440, 0, 157, 15, "#ffffff", -9),
        rect(245, 583, 513, 472, "#fbfbfb"),
        rect(780, 0, 205, 18, "#fafafa"),
        rect(1186, 0, 143, 18, "#fafafa"),
        rect(9, 9, 172, 529, "#b2b2b2"),
        rect(11, 548, 171, 549, "#1b7dbd"),
        txt(58, 515, "Without batch", BANNER, "#f0f0f0", R90(1.08)),
        txt(135, 515, "normalization", BANNER, "#f0f0f0", R90(1.125)),
        txt(61, 1075, "Batch normalization", BANNER, "#f0f0f0", R90(1.105)),
        txt(135, 1075, "by COMBAT", BANNER, "#f0f0f0", R90(1.015)),

        txt(502, 3, "Scores", `bold 14.5px ${FONT}`, "#222"),
        txt(1080, 3, "Loadings", `bold 14.5px ${FONT}`, "#222"),
        txt(502, 570, "Scores", `bold 14.5px ${FONT}`, "#222"),
        txt(1080, 570, "Loadings", `bold 14.5px ${FONT}`, "#222"),
        txt(501, 539, "33.38% of the variance explained", `12.5px ${FONT}`, "#555"),
        txt(501, 1108, "14.93% of the variance explained", `12.5px ${FONT}`, "#555"),

        {
          type: "polygon", z: 40, silent: true,
          shape: { points: [[357, 400.5], [394, 382], [394, 394], [495, 394], [495, 382], [532, 400.5], [495, 419], [495, 407], [394, 407], [394, 419]] },
          style: { fill: "#1b75b8" },
        },
        { type: "text", x: 275, y: 435, z: 50, silent: true, style: { text: "Non-biological variation", font: `36.7px ${FONT}`, fill: "#000", textAlign: "left", textVerticalAlign: "middle" } },
        { type: "text", x: 277, y: 640, z: 50, silent: true, style: { text: "Reduced \u201cbatch effect\u201d", font: `36.7px ${FONT}`, fill: "#000", textAlign: "left", textVerticalAlign: "middle" } },
      ],
    });
    return () => chart.dispose();
  }, []);
  return <div ref={ref} style={{ position: "absolute", left: 0, top: 0, width: 1329, height: 1117, filter: "blur(0.4px)" }} />;
}
